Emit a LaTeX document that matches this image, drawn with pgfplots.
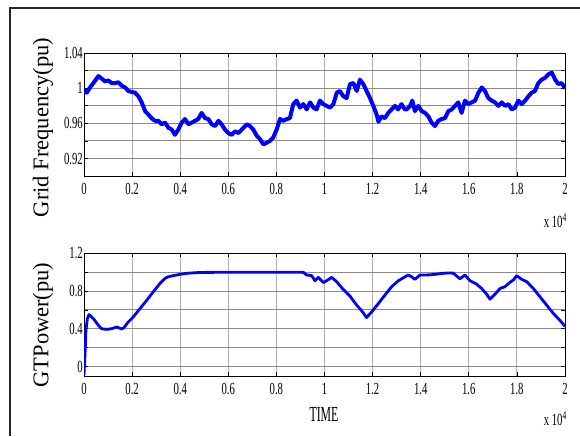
\documentclass[border=0pt]{standalone}
\usepackage{pgfplots}
\pgfplotsset{compat=1.18}
\usepackage{fontspec}
\setmainfont{Liberation Serif}
\newfontfamily\tickfont{Liberation Serif}[FakeStretch=0.63]
\newfontfamily\timefont{Liberation Serif}[FakeStretch=0.55]
\definecolor{gridgray}{RGB}{175,175,175}
\definecolor{hgridgray}{RGB}{140,140,140}
\begin{document}
\begin{tikzpicture}[x=1pt,y=1pt]
\path[use as bounding box] (0,0) rectangle (580,436);
\draw[black!85, line width=1.5pt] (10,0) -- (10,428) -- (580,428);
\pgfplotsset{
  myaxis/.style={
    scale only axis, width=481pt, height=122.7pt,
    xmin=0, xmax=2,
    xtick={0,0.2,0.4,0.6,0.8,1,1.2,1.4,1.6,1.8,2},
    xticklabels={0,0.2,0.4,0.6,0.8,1,1.2,1.4,1.6,1.8,2},
    xmajorgrids, ymajorgrids, yminorgrids,
    x grid style={gridgray, line width=0.9pt},
    y grid style={hgridgray, line width=0.9pt},
    axis line style={black, line width=0.9pt},
    major tick length=4pt, minor tick length=4pt,
    every tick/.style={black, line width=0.8pt},
    tick label style={font=\tickfont\fontsize{17}{20}\selectfont},
    xticklabel style={yshift=-3.5pt},
    yticklabel style={inner xsep=1pt},
    /pgf/number format/assume math mode=true,
  }
}
\begin{axis}[myaxis, at={(84pt,260pt)}, anchor=south west,
  ymin=0.90, ymax=1.04,
  ytick={0.92,0.96,1,1.04}, yticklabels={0.92,0.96,1,1.04},
  minor ytick={0.90,0.94,0.98,1.02}]
\addplot[blue, line width=4pt, line join=round] table {
0.000 0.999
0.011 0.995
0.025 1.001
0.039 1.006
0.060 1.014
0.074 1.011
0.087 1.008
0.101 1.009
0.115 1.006
0.129 1.006
0.143 1.007
0.157 1.003
0.171 1.001
0.184 0.997
0.198 0.996
0.212 0.995
0.226 0.991
0.240 0.984
0.254 0.974
0.268 0.970
0.281 0.966
0.295 0.963
0.309 0.963
0.323 0.959
0.337 0.961
0.351 0.955
0.365 0.953
0.378 0.947
0.392 0.953
0.406 0.961
0.420 0.965
0.434 0.959
0.448 0.961
0.462 0.963
0.475 0.965
0.489 0.972
0.503 0.966
0.517 0.965
0.531 0.959
0.545 0.957
0.559 0.963
0.572 0.959
0.586 0.953
0.600 0.949
0.614 0.947
0.628 0.951
0.642 0.949
0.656 0.953
0.670 0.957
0.677 0.959
0.690 0.957
0.704 0.953
0.718 0.946
0.732 0.942
0.746 0.936
0.760 0.938
0.773 0.940
0.787 0.944
0.801 0.953
0.815 0.965
0.829 0.963
0.843 0.965
0.856 0.966
0.870 0.982
0.884 0.986
0.898 0.978
0.912 0.982
0.926 0.976
0.940 0.984
0.954 0.978
0.967 0.976
0.981 0.986
0.995 0.982
1.009 0.980
1.023 0.978
1.037 0.982
1.051 0.995
1.064 0.997
1.078 0.991
1.092 0.989
1.106 1.005
1.120 1.006
1.134 0.997
1.147 1.010
1.161 1.005
1.175 0.997
1.189 0.989
1.203 0.980
1.217 0.970
1.224 0.962
1.237 0.968
1.251 0.966
1.265 0.972
1.279 0.976
1.293 0.980
1.306 0.976
1.320 0.982
1.334 0.976
1.342 0.976
1.356 0.980
1.365 0.986
1.376 0.974
1.390 0.980
1.404 0.974
1.418 0.972
1.432 0.968
1.445 0.961
1.459 0.957
1.473 0.963
1.487 0.965
1.501 0.966
1.515 0.974
1.529 0.976
1.543 0.980
1.556 0.984
1.570 0.972
1.584 0.986
1.598 0.982
1.612 0.984
1.626 0.986
1.640 0.995
1.654 1.001
1.667 0.997
1.681 0.989
1.695 0.986
1.709 0.984
1.723 0.980
1.737 0.984
1.751 0.980
1.765 0.982
1.778 0.976
1.792 0.978
1.806 0.986
1.820 0.982
1.834 0.986
1.848 0.991
1.861 0.995
1.875 0.997
1.889 1.006
1.903 1.010
1.917 1.012
1.931 1.016
1.945 1.018
1.959 1.010
1.972 1.005
1.986 1.006
2.000 1.000
};
\end{axis}
\begin{axis}[myaxis, at={(84pt,60pt)}, anchor=south west,
  ymin=-0.1, ymax=1.2,
  ytick={0,0.4,0.8,1.2}, yticklabels={0,0.4,0.8,1.2},
  minor ytick={0.2,0.6,1.0}]
\addplot[blue, line width=2.8pt, line join=round] table {
0.000 -0.09
0.0055 0.206
0.008 0.384
0.014 0.508
0.021 0.551
0.039 0.508
0.060 0.437
0.073 0.401
0.094 0.394
0.115 0.401
0.136 0.419
0.143 0.412
0.157 0.398
0.166 0.412
0.184 0.472
0.205 0.526
0.233 0.615
0.261 0.703
0.288 0.792
0.316 0.881
0.337 0.934
0.351 0.952
0.371 0.963
0.399 0.977
0.427 0.988
0.468 0.995
0.510 0.998
0.857 1.000
0.912 0.998
0.926 0.970
0.947 0.963
0.960 0.910
0.974 0.945
0.995 0.890
1.009 0.910
1.030 0.945
1.050 0.900
1.078 0.817
1.106 0.746
1.134 0.650
1.155 0.590
1.175 0.519
1.196 0.579
1.224 0.668
1.251 0.757
1.279 0.846
1.307 0.909
1.328 0.941
1.348 0.970
1.362 0.952
1.376 0.924
1.397 0.970
1.424 0.970
1.452 0.975
1.480 0.984
1.508 0.991
1.535 0.990
1.549 0.960
1.563 0.930
1.584 0.970
1.605 0.909
1.632 0.874
1.653 0.828
1.674 0.767
1.688 0.714
1.709 0.767
1.730 0.828
1.750 0.846
1.771 0.892
1.785 0.917
1.799 0.963
1.820 0.924
1.841 0.899
1.868 0.828
1.896 0.739
1.924 0.650
1.952 0.561
1.979 0.490
2.000 0.426
};
\end{axis}
\node[rotate=90, font=\fontsize{22.5}{26}\selectfont] at (43,308.5) {Grid Frequency(pu)};
\node[rotate=90, font=\fontsize{22.5}{26}\selectfont] at (43,111) {GTPower(pu)};
\node[font=\timefont\fontsize{21.5}{24}\selectfont] at (324,22) {TIME};
\node[anchor=east, inner sep=0pt, font=\tickfont\fontsize{17}{20}\selectfont] at (567,215) {x 10\textsuperscript{4}};
\node[anchor=east, inner sep=0pt, font=\tickfont\fontsize{17}{20}\selectfont] at (567,17) {x 10\textsuperscript{4}};
\end{tikzpicture}
\end{document}
